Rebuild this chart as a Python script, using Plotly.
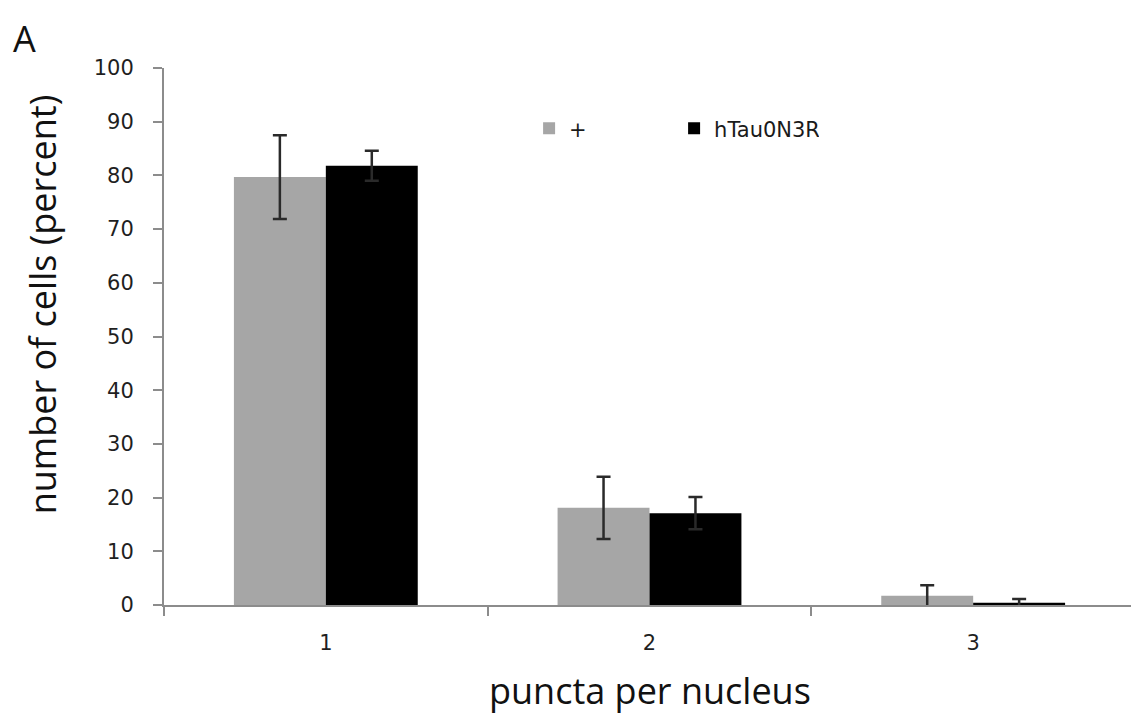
import plotly.graph_objects as go

categories = ["1", "2", "3"]
plus_values = [79.7, 18.1, 1.7]
plus_errors = [7.8, 5.8, 2.0]
tau_values = [81.8, 17.1, 0.4]
tau_errors = [2.8, 3.0, 0.7]
y_ticks = [0, 10, 20, 30, 40, 50, 60, 70, 80, 90, 100]

TITLE_FONT = "Open Sans, DejaVu Sans, sans-serif"
TICK_FONT = "DejaVu Sans, Verdana, sans-serif"

fig = go.Figure()
fig.add_trace(go.Bar(
    x=categories, y=plus_values, name="+",
    marker=dict(color="#a6a6a6", line=dict(width=0)),
    error_y=dict(type="data", array=plus_errors, color="#2a2a2a", thickness=2.5, width=7),
))
fig.add_trace(go.Bar(
    x=categories, y=tau_values, name="hTau0N3R",
    marker=dict(color="#000000", line=dict(width=0)),
    error_y=dict(type="data", array=tau_errors, color="#2a2a2a", thickness=2.5, width=7),
))

fig.update_layout(
    width=1131, height=711,
    margin=dict(l=156, r=4, t=60, b=114),
    paper_bgcolor="white", plot_bgcolor="white",
    barmode="group", bargap=0.432, bargroupgap=0,
    font=dict(family=TICK_FONT, color="#222222"),
    showlegend=True,
    legend=dict(orientation="h", x=0.376, y=0.887, xanchor="left", yanchor="middle",
                font=dict(size=21, color="#1a1a1a", family=TICK_FONT),
                entrywidth=100, entrywidthmode="pixels",
                bgcolor="rgba(0,0,0,0)"),
    xaxis=dict(
        type="category", tickson="boundaries", ticks="outside", ticklen=9,
        tickcolor="#8c8c8c", tickwidth=2, showline=True, linecolor="#8c8c8c", linewidth=2,
        showgrid=False, tickfont=dict(size=21, color="#1f1f1f", family=TICK_FONT),
        ticklabelstandoff=18,
    ),
    yaxis=dict(
        range=[0, 100], tickvals=y_ticks, ticks="outside", ticklen=9,
        tickcolor="#8c8c8c", tickwidth=2, showline=True, linecolor="#8c8c8c", linewidth=2,
        showgrid=False, zeroline=False,
        tickfont=dict(size=21, color="#1f1f1f", family=TICK_FONT),
        ticklabelstandoff=15,
    ),
)
fig.add_annotation(text="number of cells (percent)", xref="paper", yref="paper",
                   x=-0.1256, y=0.56, xanchor="center", yanchor="middle",
                   textangle=-90, showarrow=False,
                   font=dict(size=36, color="#111111", family=TITLE_FONT))
fig.add_annotation(text="puncta per nucleus", xref="paper", yref="paper",
                   x=0.5, y=-0.16, xanchor="center", yanchor="middle",
                   showarrow=False,
                   font=dict(size=36, color="#111111", family=TITLE_FONT))
fig.add_annotation(text="A", xref="paper", yref="paper", x=-0.158, y=1.105,
                   xanchor="left", yanchor="top", showarrow=False,
                   font=dict(size=36, color="#111111", family=TITLE_FONT))

fig.write_html("out.html")
